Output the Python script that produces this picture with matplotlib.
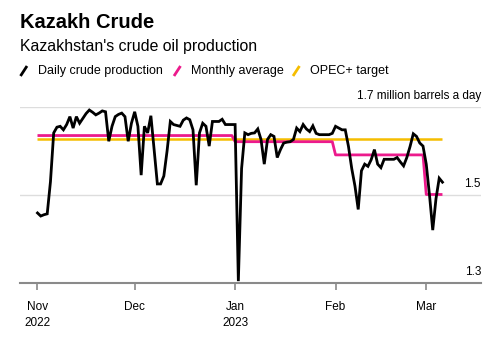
import datetime as dt
import numpy as np
import matplotlib
matplotlib.use("Agg")
import matplotlib.pyplot as plt
import matplotlib.dates as mdates
from matplotlib.lines import Line2D
from matplotlib.transforms import blended_transform_factory

plt.rcParams['font.family'] = ['Liberation Sans', 'DejaVu Sans']

# daily production, million barrels a day, Nov 1 2022 .. Mar 6 2023
start = dt.date(2022, 11, 1)
daily = [
    1.459, 1.452, 1.455, 1.457, 1.530, 1.641, 1.654, 1.656, 1.648, 1.660,
    1.678, 1.652, 1.678, 1.663, 1.674, 1.685, 1.693, 1.688, 1.682, 1.686,
    1.691, 1.689, 1.622, 1.656, 1.678, 1.683, 1.686, 1.678, 1.622, 1.663,
    1.689, 1.656, 1.545, 1.656, 1.641, 1.680, 1.603, 1.525, 1.525, 1.543,
    1.600, 1.667, 1.660, 1.658, 1.656, 1.670, 1.675, 1.671, 1.648, 1.522,
    1.641, 1.663, 1.656, 1.611, 1.667, 1.667, 1.667, 1.672, 1.660, 1.660,
    1.660, 1.660, 1.304, 1.560, 1.641, 1.637, 1.640, 1.641, 1.650, 1.626,
    1.570, 1.626, 1.637, 1.633, 1.585, 1.603, 1.618, 1.620, 1.621, 1.626,
    1.652, 1.644, 1.660, 1.650, 1.644, 1.657, 1.640, 1.637, 1.637, 1.637,
    1.637, 1.640, 1.656, 1.652, 1.648, 1.648, 1.610, 1.560, 1.520, 1.467,
    1.555, 1.570, 1.565, 1.580, 1.603, 1.570, 1.562, 1.581, 1.581, 1.581,
    1.581, 1.585, 1.575, 1.566, 1.585, 1.610, 1.639, 1.633, 1.618, 1.611,
    1.570, 1.500, 1.420, 1.491, 1.538, 1.529,
]
months = [(2022, 11), (2022, 12), (2023, 1), (2023, 2), (2023, 3)]
monthly_avg = [1.635, 1.635, 1.621, 1.591, 1.501]
opec_target = 1.628

month_labels = ["Nov\n2022", "Dec", "Jan\n2023", "Feb", "Mar"]

BLACK = "#000000"
PINK = "#ec1a8c"
YELLOW = "#f5bd00"

dates = [start + dt.timedelta(days=i) for i in range(len(daily))]
avg_by_month = dict(zip(months, monthly_avg))
monthly_line = [avg_by_month[(d.year, d.month)] for d in dates]

fig = plt.figure(figsize=(5.0, 3.45), dpi=100)
ax = fig.add_axes([0.04, 0.18, 0.922, 0.51])

ax.plot(dates, [opec_target] * len(dates), color=YELLOW, lw=1.8,
        solid_capstyle='butt', zorder=3)
ax.plot(dates, monthly_line, color=PINK, lw=2.0, solid_capstyle='butt', zorder=4)
ax.plot(dates, daily, color=BLACK, lw=2.0, solid_joinstyle='miter', zorder=5,
        clip_on=False)

ax.set_ylim(1.3, 1.7)
ax.set_xlim(mdates.date2num(start) - 5.4, mdates.date2num(start) + 136.9)

for v in (1.5, 1.7):
    ax.axhline(v, color="#dddddd", lw=1.0, zorder=1)

for s in ('top', 'right', 'left'):
    ax.spines[s].set_visible(False)
ax.spines['bottom'].set_color("#8a8a8a")
ax.spines['bottom'].set_linewidth(1.5)
ax.spines['bottom'].set_zorder(6)

ax.set_yticks([])
ax.set_xticks([dt.date(y, m, 1) for y, m in months])
ax.set_xticklabels(month_labels, fontsize=8.5, linespacing=1.5)
ax.tick_params(axis='x', length=5, width=1.2, color="#8a8a8a", pad=8)

# value labels sit above their gridlines on the right
tr = blended_transform_factory(ax.transAxes, ax.transData)
ax.text(1.0, 1.7 + 0.012, "1.7 million barrels a day", transform=tr,
        ha='right', va='bottom', fontsize=8.5)
ax.text(1.0, 1.5 + 0.012, "1.5", transform=tr, ha='right', va='bottom', fontsize=8.5)
ax.text(1.0, 1.3 + 0.012, "1.3", transform=tr, ha='right', va='bottom', fontsize=8.5)

fig.text(20 / 500, 1 - 22 / 345, "Kazakh Crude", fontsize=14.5, fontweight='bold',
         va='center', ha='left')
fig.text(20 / 500, 1 - 46 / 345, "Kazakhstan's crude oil production", fontsize=11.4,
         va='center', ha='left')

legend_items = [(BLACK, "Daily crude production", 20.5),
                (PINK, "Monthly average", 174),
                (YELLOW, "OPEC+ target", 293)]
for color, label, x0 in legend_items:
    fig.add_artist(Line2D([x0 / 500, (x0 + 6.5) / 500],
                          [1 - 76 / 345, 1 - 66 / 345],
                          color=color, lw=2.0, solid_capstyle='butt'))
    fig.text((x0 + 17) / 500, 1 - 71 / 345, label, fontsize=9, va='center', ha='left')

fig.savefig("out.png", dpi=100, facecolor='white')
